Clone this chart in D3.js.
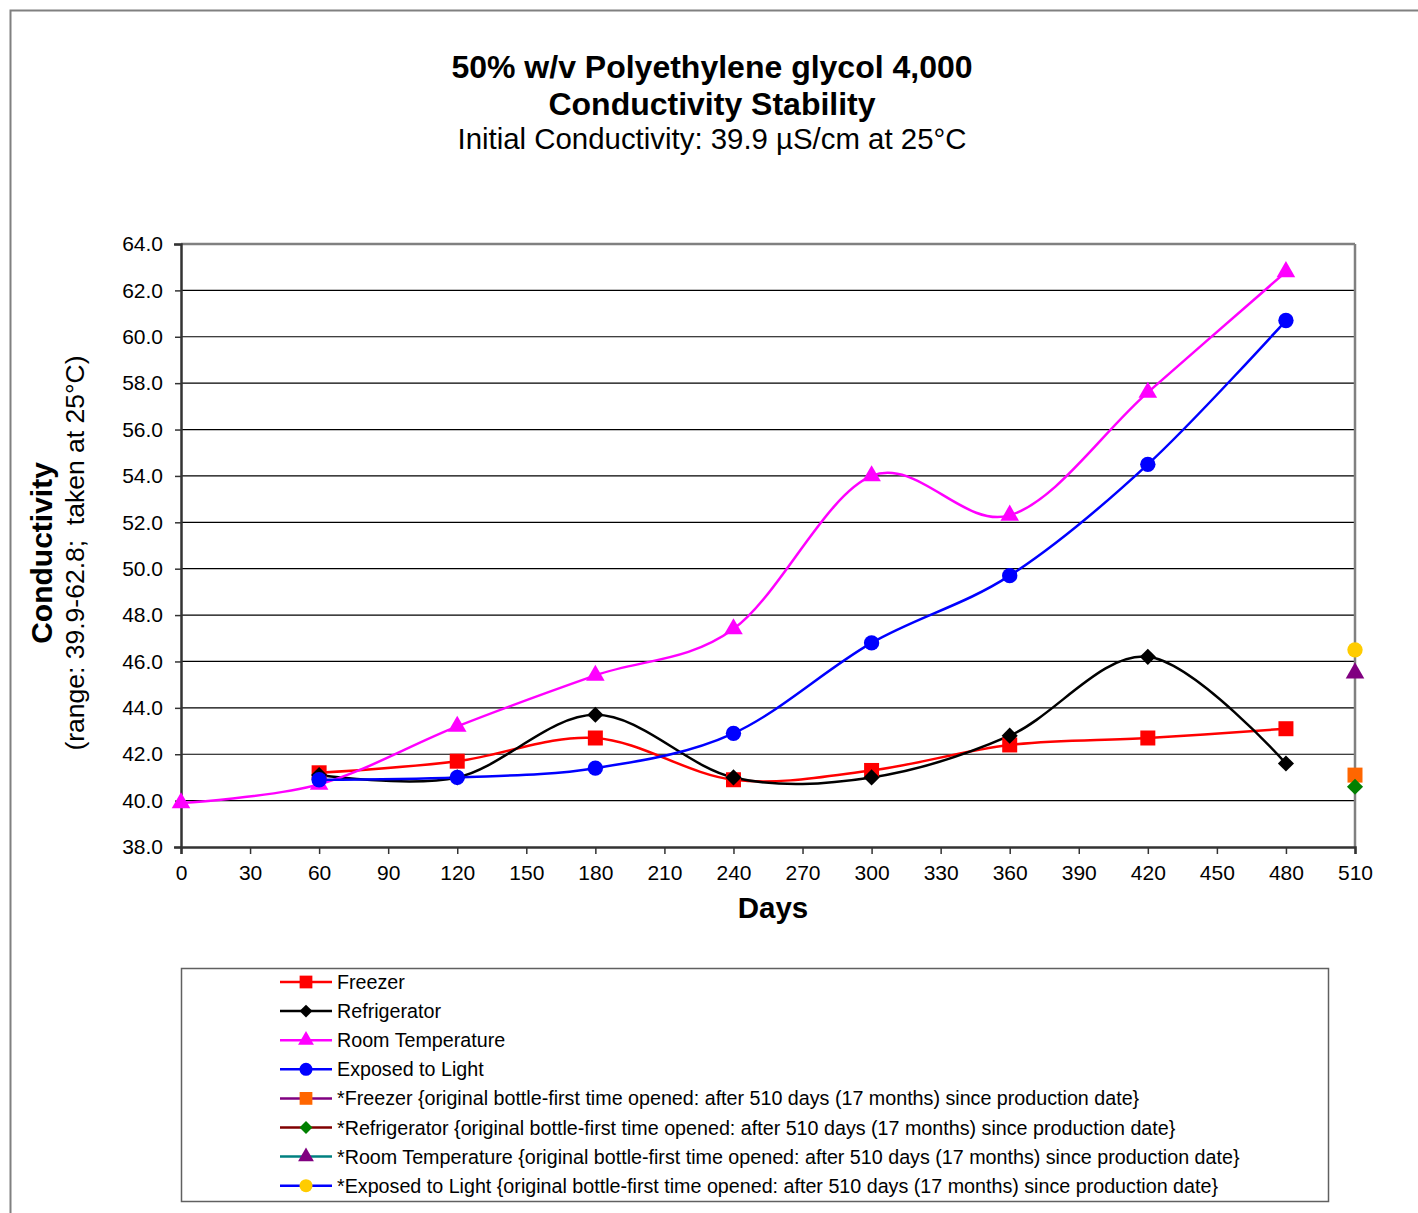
<!DOCTYPE html>
<html><head><meta charset="utf-8">
<script src="https://cdn.jsdelivr.net/npm/d3@7"></script>
<style>body{margin:0;background:#fff;} svg{display:block;font-family:"Liberation Sans",Arial,sans-serif;}</style>
</head><body>
<svg id="c" width="1418" height="1213"></svg>
<script>
const days = [0, 60, 120, 180, 240, 300, 360, 420, 480];
const freezer = [null, 41.2, 41.7, 42.7, 40.9, 41.3, 42.4, 42.7, 43.1];
const refrigerator = [null, 41.1, 41.0, 43.7, 41.0, 41.0, 42.8, 46.2, 41.6];
const roomTemp = [39.9, 40.7, 43.2, 45.4, 47.4, 54.0, 52.3, 57.6, 62.8];
const exposedLight = [null, 40.9, 41.0, 41.4, 42.9, 46.8, 49.7, 54.5, 60.7];
const originalDay = 510;
const origFreezer = 41.1, origRefrigerator = 40.6, origRoom = 45.5, origLight = 46.5;
const xTicks = d3.range(0, 511, 30);
const yTicks = d3.range(38, 64.01, 2);

const svg = d3.select("#c");
svg.append("rect").attr("x",10.5).attr("y",10.5).attr("width",1420).attr("height",1220)
  .attr("fill","none").attr("stroke","#808080").attr("stroke-width",2);

const L=181, R=1355, T=244, B=847;
const x = d3.scaleLinear().domain([0,510]).range([L,R]);
const y = d3.scaleLinear().domain([38,64]).range([B,T]);

// gridlines
svg.append("g").selectAll("line").data(yTicks.filter(v=>v>38 && v<64)).join("line")
  .attr("x1",L).attr("x2",R).attr("y1",d=>y(d)).attr("y2",d=>y(d))
  .attr("stroke","#000").attr("stroke-width",1.2);
// plot border top/right
svg.append("line").attr("x1",L).attr("x2",R).attr("y1",T).attr("y2",T).attr("stroke","#808080").attr("stroke-width",2.5);
svg.append("line").attr("x1",R).attr("x2",R).attr("y1",T).attr("y2",B).attr("stroke","#808080").attr("stroke-width",2.5);

// axes
const yAxis = d3.axisLeft(y).tickValues(yTicks).tickFormat(d3.format(".1f")).tickSizeOuter(0).tickSize(7).tickPadding(11);
const gy = svg.append("g").attr("transform",`translate(${L},0)`).call(yAxis);
const xAxis = d3.axisBottom(x).tickValues(xTicks).tickSizeOuter(0).tickSize(7).tickPadding(11);
const gx = svg.append("g").attr("transform",`translate(0,${B})`).call(xAxis);
[gx,gy].forEach(g=>{
  g.select(".domain").attr("stroke","#333").attr("stroke-width",2.5);
  g.selectAll(".tick line").attr("stroke","#333").attr("stroke-width",1.5);
  g.selectAll("text").attr("font-size",21).attr("fill","#000").attr("font-family","Liberation Sans, Arial, sans-serif");
});
gy.selectAll(".tick line").attr("x1",0).attr("x2",-6);

// series
const diamondType = {draw(ctx, size){ const r=Math.sqrt(size/2); ctx.moveTo(0,-r); ctx.lineTo(r,0); ctx.lineTo(0,r); ctx.lineTo(-r,0); ctx.closePath(); }};
const sym = {
  square: d3.symbol().type(d3.symbolSquare).size(225),
  diamond: d3.symbol().type(diamondType).size(130),
  triangle: d3.symbol().type(d3.symbolTriangle).size(150),
  circle: d3.symbol().type(d3.symbolCircle).size(185)
};
const series = [
  {name:"Freezer", vals:freezer, color:"#FF0000", mcolor:"#FF0000", shape:"square"},
  {name:"Refrigerator", vals:refrigerator, color:"#000000", mcolor:"#000000", shape:"diamond"},
  {name:"Room Temperature", vals:roomTemp, color:"#FF00FF", mcolor:"#FF00FF", shape:"triangle"},
  {name:"Exposed to Light", vals:exposedLight, color:"#0000FF", mcolor:"#0000FF", shape:"circle"}
];
const line = d3.line().defined(d=>d[1]!=null).x(d=>x(d[0])).y(d=>y(d[1])).curve(d3.curveCardinal.tension(0));
series.forEach(s=>{
  const pts = days.map((d,i)=>[d,s.vals[i]]).filter(p=>p[1]!=null);
  svg.append("path").datum(pts).attr("d",line).attr("fill","none").attr("stroke",s.color).attr("stroke-width",2.5);
});
series.forEach(s=>{
  const pts = days.map((d,i)=>[d,s.vals[i]]).filter(p=>p[1]!=null);
  svg.append("g").selectAll("path").data(pts).join("path")
    .attr("d",sym[s.shape]).attr("transform",p=>`translate(${x(p[0])},${y(p[1])})`).attr("fill",s.mcolor);
});
const origSeries = [
  {name:"*Freezer {original bottle-first time opened: after 510 days (17 months) since production date}", v:origFreezer, color:"#800080", mcolor:"#FF6600", shape:"square"},
  {name:"*Refrigerator {original bottle-first time opened: after 510 days (17 months) since production date}", v:origRefrigerator, color:"#800000", mcolor:"#008000", shape:"diamond"},
  {name:"*Room Temperature {original bottle-first time opened: after 510 days (17 months) since production date}", v:origRoom, color:"#008080", mcolor:"#800080", shape:"triangle"},
  {name:"*Exposed to Light {original bottle-first time opened: after 510 days (17 months) since production date}", v:origLight, color:"#0000FF", mcolor:"#FFCC00", shape:"circle"}
];
origSeries.forEach(s=>{
  svg.append("path").attr("d",sym[s.shape]).attr("transform",`translate(${x(originalDay)},${y(s.v)})`).attr("fill",s.mcolor);
});

// titles
const t = svg.append("g").attr("text-anchor","middle").attr("fill","#000");
t.append("text").attr("x",712).attr("y",78).attr("font-size",32).attr("font-weight","bold").text("50% w/v Polyethylene glycol 4,000");
t.append("text").attr("x",712).attr("y",115).attr("font-size",32).attr("font-weight","bold").text("Conductivity Stability");
t.append("text").attr("x",712).attr("y",149).attr("font-size",29.4).text("Initial Conductivity: 39.9 µS/cm at 25°C");
t.append("text").attr("x",773).attr("y",918).attr("font-size",29.5).attr("font-weight","bold").text("Days");
t.append("text").attr("transform","translate(52,553) rotate(-90)").attr("font-size",30).attr("font-weight","bold").text("Conductivity");
t.append("text").attr("transform","translate(84,553) rotate(-90)").attr("font-size",26.5).style("white-space","pre").text("(range: 39.9-62.8;  taken at 25°C)");

// legend
svg.append("rect").attr("x",181.5).attr("y",968.5).attr("width",1147).attr("height",233)
  .attr("fill","#fff").attr("stroke","#606060").attr("stroke-width",1.5);
const all = series.map(s=>({name:s.name,color:s.color,mcolor:s.mcolor,shape:s.shape})).concat(origSeries);
const lg = svg.append("g");
all.forEach((s,i)=>{
  const yy = 982 + i*29.1;
  lg.append("line").attr("x1",280).attr("x2",332).attr("y1",yy).attr("y2",yy).attr("stroke",s.color).attr("stroke-width",2.5);
  const sc = {square:0.85, diamond:0.8, triangle:0.85, circle:0.85}[s.shape];
  lg.append("path").attr("d",sym[s.shape]).attr("transform",`translate(306,${yy}) scale(${sc})`).attr("fill",s.mcolor);
  lg.append("text").attr("x",337).attr("y",yy+7).attr("font-size",19.7).attr("fill","#000").text(s.name);
});
</script>
</body></html>
